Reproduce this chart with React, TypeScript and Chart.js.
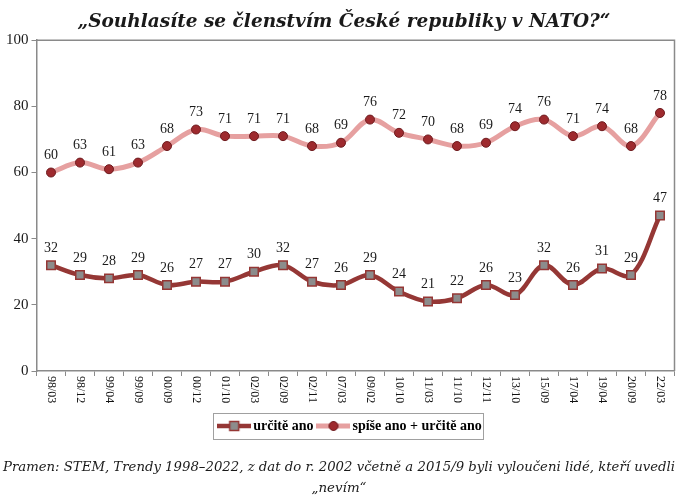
import React, { useEffect, useRef } from "react";
import { Chart, registerables } from "chart.js";

Chart.register(...registerables);

const categories = [
  "98/03", "98/12", "99/04", "99/09", "00/09", "00/12", "01/10", "02/03", "02/09", "02/11", "07/03",
  "09/02", "10/10", "11/03", "11/10", "12/11", "13/10", "15/09", "17/04", "19/04", "20/09", "22/03",
];
const urciteAno = [32, 29, 28, 29, 26, 27, 27, 30, 32, 27, 26, 29, 24, 21, 22, 26, 23, 32, 26, 31, 29, 47];
const spiseAnoPlusUrciteAno = [60, 63, 61, 63, 68, 73, 71, 71, 71, 68, 69, 76, 72, 70, 68, 69, 74, 76, 71, 74, 68, 78];
const seriesNames = ["určitě ano", "spíše ano + určitě ano"];
const titleText = "„Souhlasíte se členstvím České republiky v NATO?“";
const footerLines = [
  "Pramen: STEM, Trendy 1998–2022, z dat do r. 2002 včetně a 2015/9 byli vyloučeni lidé, kteří uvedli",
  "„nevím“",
];
const yTicks = { min: 0, max: 100, step: 20 };

const DARK = "#953735";
const PINK = "#E6A0A0";
const GRAY_MARK = "#8C8C8C";
const CIRCLE_FILL = "#9E2A2E";
const CIRCLE_BORDER = "#6E1B1E";
const FRAME = "#8A8A8A";
const SERIF = "'Liberation Serif', 'Times New Roman', serif";
const LEGEND_SHIFT = 13;
const TITLE_SHIFT = 5;

function makeSample(kind: "rect" | "circle"): HTMLCanvasElement {
  const c = document.createElement("canvas");
  c.width = 34;
  c.height = 12;
  const ctx = c.getContext("2d")!;
  ctx.lineCap = "butt";
  ctx.strokeStyle = kind === "rect" ? DARK : PINK;
  ctx.lineWidth = kind === "rect" ? 4.5 : 5;
  ctx.beginPath();
  ctx.moveTo(0, 6);
  ctx.lineTo(34, 6);
  ctx.stroke();
  if (kind === "rect") {
    ctx.fillStyle = GRAY_MARK;
    ctx.strokeStyle = DARK;
    ctx.lineWidth = 1.5;
    ctx.fillRect(12.5, 1.5, 9, 9);
    ctx.strokeRect(12.5, 1.5, 9, 9);
  } else {
    ctx.fillStyle = CIRCLE_FILL;
    ctx.strokeStyle = CIRCLE_BORDER;
    ctx.lineWidth = 1;
    ctx.beginPath();
    ctx.arc(17, 6, 4.5, 0, Math.PI * 2);
    ctx.fill();
    ctx.stroke();
  }
  return c;
}

const valueLabels = {
  id: "valueLabels",
  afterDatasetsDraw(chart: any) {
    const ctx = chart.ctx;
    ctx.save();
    ctx.font = `14px ${SERIF}`;
    ctx.fillStyle = "#1a1a1a";
    ctx.textAlign = "center";
    ctx.textBaseline = "middle";
    chart.data.datasets.forEach((ds: any, i: number) => {
      const meta = chart.getDatasetMeta(i);
      meta.data.forEach((pt: any, j: number) => {
        ctx.fillText(String(ds.data[j]), pt.x, pt.y - 17);
      });
    });
    ctx.restore();
  },
};

const boxShift = {
  id: "boxShift",
  afterLayout(chart: any) {
    const lg = chart.legend;
    if (lg) {
      lg.left += LEGEND_SHIFT;
      lg.right += LEGEND_SHIFT;
    }
    const tb = chart.titleBlock;
    if (tb) {
      tb.left += TITLE_SHIFT;
      tb.right += TITLE_SHIFT;
    }
  },
};

const decorations = {
  id: "decorations",
  afterDraw(chart: any) {
    const ctx = chart.ctx;
    const area = chart.chartArea;
    ctx.save();
    ctx.strokeStyle = FRAME;
    ctx.lineWidth = 1.5;
    ctx.beginPath();
    ctx.moveTo(area.left, area.top);
    ctx.lineTo(area.right, area.top);
    ctx.lineTo(area.right, area.bottom);
    ctx.stroke();
    const xs = chart.scales.x;
    ctx.font = `12px ${SERIF}`;
    ctx.fillStyle = "#111";
    ctx.textAlign = "left";
    ctx.textBaseline = "middle";
    chart.data.labels.forEach((lab: string, i: number) => {
      const x = xs.getPixelForTick(i);
      ctx.save();
      ctx.translate(x, xs.top + 5);
      ctx.rotate(Math.PI / 2);
      ctx.fillText(lab, 0, 0);
      ctx.restore();
    });
    const hb = chart.legend && chart.legend.legendHitBoxes;
    if (hb && hb.length) {
      const first = hb[0];
      const last = hb[hb.length - 1];
      const l = first.left - 9;
      const r = last.left + last.width + 1;
      const t = first.top - 6;
      const h = first.height + 12;
      ctx.strokeStyle = "#A0A0A0";
      ctx.lineWidth = 1;
      ctx.strokeRect(Math.round(l) + 0.5, Math.round(t) + 0.5, Math.round(r - l), Math.round(h));
    }
    ctx.restore();
  },
};

export default function App() {
  const ref = useRef<HTMLCanvasElement | null>(null);
  useEffect(() => {
    if (!ref.current) return;
    const samples = [makeSample("rect"), makeSample("circle")];
    const chart = new Chart(ref.current, {
      type: "line",
      data: {
        labels: categories,
        datasets: [
          {
            label: seriesNames[0],
            data: urciteAno,
            borderColor: DARK,
            borderWidth: 4.5,
            tension: 0.35,
            pointStyle: "rect",
            pointRadius: 6,
            pointBackgroundColor: GRAY_MARK,
            pointBorderColor: DARK,
            pointBorderWidth: 1.5,
            fill: false,
          },
          {
            label: seriesNames[1],
            data: spiseAnoPlusUrciteAno,
            borderColor: PINK,
            borderWidth: 5,
            tension: 0.35,
            pointStyle: "circle",
            pointRadius: 4.5,
            pointBackgroundColor: CIRCLE_FILL,
            pointBorderColor: CIRCLE_BORDER,
            pointBorderWidth: 1,
            fill: false,
          },
        ],
      },
      options: {
        responsive: false,
        animation: false,
        layout: { padding: { left: 3, right: 7, top: 0, bottom: 0 } },
        font: { family: SERIF },
        scales: {
          x: {
            type: "category",
            offset: true,
            ticks: { display: false },
            grid: { display: true, drawOnChartArea: false, offset: true, tickLength: 5, color: FRAME, lineWidth: 1 },
            border: { display: true, color: FRAME, width: 1.5 },
            afterFit: (scale: any) => {
              scale.height = 40;
            },
          },
          y: {
            min: yTicks.min,
            max: yTicks.max,
            ticks: { stepSize: yTicks.step, color: "#1a1a1a", font: { family: SERIF, size: 15 }, padding: 3 },
            grid: { display: true, drawOnChartArea: false, tickLength: 5, color: FRAME, lineWidth: 1 },
            border: { display: true, color: FRAME, width: 1.5 },
          },
        },
        plugins: {
          title: {
            display: true,
            text: titleText,
            color: "#1a1a1a",
            font: { family: "'DejaVu Serif', serif", size: 18.5, weight: "bold", style: "italic", lineHeight: 1.2 },
            padding: { top: 11, bottom: 7 },
          },
          subtitle: {
            display: true,
            position: "bottom",
            text: footerLines,
            color: "#1a1a1a",
            font: { family: "'DejaVu Serif', serif", size: 13.4, style: "italic", lineHeight: "21px" },
            padding: { top: 14, bottom: 0 },
          },
          legend: {
            display: true,
            position: "bottom",
            labels: {
              usePointStyle: true,
              pointStyleWidth: 24,
              padding: 8,
              color: "#000",
              font: { family: SERIF, size: 14, weight: "bold" },
              generateLabels: (ch: any) => {
                const base = (Chart as any).defaults.plugins.legend.labels.generateLabels(ch);
                return base.map((it: any, i: number) => ({ ...it, pointStyle: samples[i], lineWidth: 0 }));
              },
            },
          },
          tooltip: { enabled: false },
        },
      },
      plugins: [boxShift, valueLabels, decorations],
    } as any);
    return () => chart.destroy();
  }, []);
  return (
    <div style={{ position: "fixed", left: 0, top: 0, width: 682, height: 499, background: "#fff" }}>
      <canvas ref={ref} width={682} height={499} style={{ width: 682, height: 499, display: "block" }} />
    </div>
  );
}
